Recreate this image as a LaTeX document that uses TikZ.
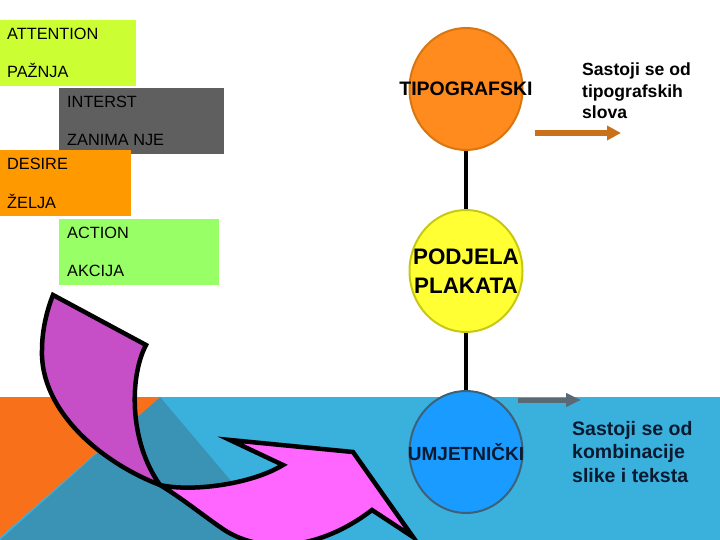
\documentclass[tikz,border=0pt]{standalone}
\usepackage{fontspec}
\setmainfont{Liberation Sans}
\usetikzlibrary{positioning,arrows.meta,shapes.geometric}

\definecolor{attncol}{HTML}{CCFF33}
\definecolor{intcol}{HTML}{5F5F5F}
\definecolor{descol}{HTML}{FF9900}
\definecolor{actcol}{HTML}{99FF66}
\definecolor{bandblue}{HTML}{3AB0DC}
\definecolor{bandteal}{HTML}{3A93B5}
\definecolor{bandorange}{HTML}{F9701A}
\definecolor{tipofill}{HTML}{FF8A1E}
\definecolor{tipoline}{HTML}{D9760F}
\definecolor{podfill}{HTML}{FFFF33}
\definecolor{podline}{HTML}{C8C814}
\definecolor{umjfill}{HTML}{1A9BFF}
\definecolor{umjline}{HTML}{3F6178}
\definecolor{navytext}{HTML}{0A1A30}
\definecolor{brownarrow}{HTML}{C8701A}
\definecolor{grayarrow}{HTML}{596A75}
\definecolor{tailcol}{HTML}{C64FC8}
\definecolor{headcol}{HTML}{FF66FF}

\begin{document}
\begin{tikzpicture}[x=1pt, y=-1pt,
    aidabox/.style={rectangle, inner sep=0pt, outer sep=0pt, minimum height=66pt},
    boxlabel/.style={inner sep=0pt, anchor=base west, font=\fontsize{16.3}{19}\selectfont},
    part/.style={ellipse, draw, line width=2pt, minimum width=113pt, minimum height=122pt, inner sep=0pt},
    parttext/.style={inner sep=0pt, align=center},
    desc/.style={align=left, anchor=north west, inner sep=0pt},
    stem/.style={line width=4pt, black},
    flowarrow/.style={line width=4.5pt, line join=miter, draw=black}]
    \useasboundingbox (0,0) rectangle (720,540);
    \clip (0,0) rectangle (720,540);

    % Bottom band
    \fill[bandblue] (0,397) rectangle (720,540);
    \fill[bandteal] (160,397) -- (281,540) -- (0,540) -- cycle;
    \fill[bandorange] (0,397) -- (160,397) -- (0,537) -- cycle;

    % AIDA boxes
    \node[aidabox, fill=attncol, minimum width=136pt] (attention) at (68,53) {};
    \node[boxlabel] (attn1) at (7,40) {ATTENTION};
    \node[boxlabel, below=38pt of attn1.base west, anchor=base west] (attn2) {PAŽNJA};

    \node[aidabox, fill=intcol, minimum width=165pt] (interest) at (141.5,121) {};
    \node[boxlabel] (int1) at (67,108) {INTERST};
    \node[boxlabel, below=38pt of int1.base west, anchor=base west] (int2) {ZANIMA NJE};

    \node[aidabox, fill=descol, minimum width=131pt] (desire) at (65.5,183) {};
    \node[boxlabel] (des1) at (7,170) {DESIRE};
    \node[boxlabel, below=38pt of des1.base west, anchor=base west] (des2) {ŽELJA};

    \node[aidabox, fill=actcol, minimum width=160pt] (action) at (139,252) {};
    \node[boxlabel] (act1) at (67,238) {ACTION};
    \node[boxlabel, below=38pt of act1.base west, anchor=base west] (act2) {AKCIJA};

    % Curved arrow
    \filldraw[flowarrow, fill=tailcol] (53,295) -- (146,345)
        .. controls (130,375) and (128,440) .. (160,485)
        .. controls (100,462) and (40,410) .. (42,350)
        .. controls (42,330) and (47,310) .. cycle;
    \filldraw[flowarrow, fill=headcol] (160,485)
        .. controls (190,492) and (250,485) .. (283,465)
        -- (230,440) -- (353,452) -- (413,537) -- (372,510)
        .. controls (320,550) and (260,556) .. (220,527)
        .. controls (200,513) and (180,497) .. cycle;

    % Poster types
    \node[part, fill=tipofill, draw=tipoline] (tipo) at (466,89) {};
    \node[parttext, font=\fontsize{19.5}{22}\selectfont\bfseries] (tipotxt) at (tipo) {TIPOGRAFSKI};
    \node[part, fill=podfill, draw=podline] (podjela) at (466,271) {};
    \node[parttext, font=\fontsize{22.4}{29}\selectfont\bfseries] (podtxt) at (podjela) {PODJELA\\PLAKATA};
    \node[part, fill=umjfill, draw=umjline] (umjet) at (466,452) {};
    \node[parttext, text=navytext, font=\fontsize{19}{22}\selectfont\bfseries] (umjtxt) at (umjet) {UMJETNIČKI};

    \draw[stem] (tipo) -- (podjela);
    \draw[stem] (podjela) -- (umjet);

    % Descriptions
    \coordinate (tipostart) at (535,133);
    \coordinate (tipoend) at (621,133);
    \draw[brownarrow, line width=6pt, -{Triangle[length=14pt, width=14pt]}] (tipostart) -- (tipoend);
    \node[desc, font=\fontsize{17.6}{21.5}\selectfont\bfseries] (tipodesc) at (582,63) {Sastoji se od\\tipografskih\\slova};

    \coordinate (umjstart) at (518,400);
    \coordinate (umjend) at (581,400);
    \draw[grayarrow, line width=5pt, -{Triangle[length=15pt, width=13pt]}] (umjstart) -- (umjend);
    \node[desc, text=navytext, font=\fontsize{19.5}{23.5}\selectfont\bfseries] (umjdesc) at (572,421) {Sastoji se od\\kombinacije\\slike i teksta};

\end{tikzpicture}
\end{document}
